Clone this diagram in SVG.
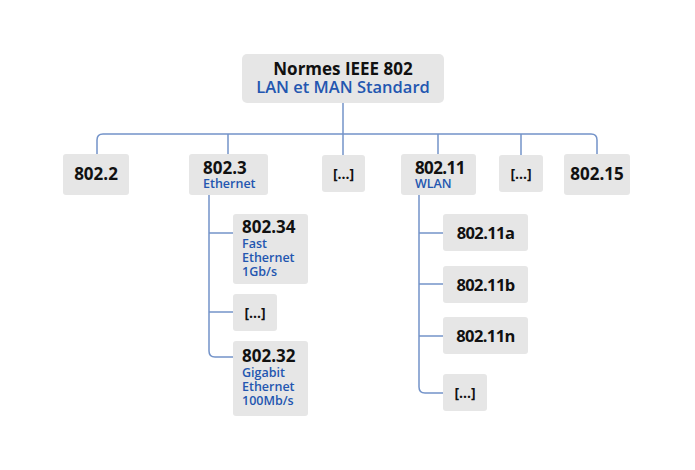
<svg xmlns="http://www.w3.org/2000/svg" width="695" height="470" viewBox="0 0 695 470">
<style>
.box{fill:#e6e6e6}
.t{font-family:"Open Sans","Liberation Sans",sans-serif;font-weight:700;fill:#111}
.b{font-family:"Open Sans","Liberation Sans",sans-serif;font-weight:600;fill:#2356b0}
.n{letter-spacing:-0.6px}
.c{fill:none;stroke:#7393c9;stroke-width:1.5}
</style>
<rect width="695" height="470" fill="#fff"/>
<g id="connectors" class="c">
<path d="M97,154 V140 Q97,134 103,134 H591 Q597,134 597,140 V154"/>
<path d="M343,103 V155"/>
<path d="M228,134 V154"/>
<path d="M438,134 V154"/>
<path d="M521,134 V155"/>
<path d="M209,195 V351 Q209,357 215,357 H233"/>
<path d="M209,233 H233"/>
<path d="M209,312 H233"/>
<path d="M419,195 V387 Q419,393 425,393 H443"/>
<path d="M419,233 H443"/>
<path d="M419,284 H443"/>
<path d="M419,336 H443"/>
</g>
<g id="root">
<rect class="box" x="242" y="54" width="202" height="49" rx="5"/>
<text class="t" x="343" y="75" font-size="17" text-anchor="middle">Normes IEEE 802</text>
<text class="b" x="343" y="93" font-size="16.5" font-weight="500" text-anchor="middle">LAN et MAN Standard</text>
</g>
<g id="n8022">
<rect class="box" x="63" y="154" width="66" height="41" rx="3"/>
<text class="t" x="96" y="180" font-size="17" text-anchor="middle">802.2</text>
</g>
<g id="n8023">
<rect class="box" x="189" y="154" width="79" height="41" rx="3"/>
<text class="t" x="203" y="174" font-size="17">802.3</text>
<text class="b" x="203" y="188" font-size="12.5">Ethernet</text>
</g>
<g id="etc1">
<rect class="box" x="322" y="155" width="43" height="37" rx="3"/>
<text class="t" x="343.5" y="179" font-size="14" text-anchor="middle">[...]</text>
</g>
<g id="n80211">
<rect class="box" x="401" y="154" width="75" height="41" rx="3"/>
<text class="t n" x="415" y="174" font-size="17">802.11</text>
<text class="b" x="415" y="188" font-size="12.5">WLAN</text>
</g>
<g id="etc2">
<rect class="box" x="499" y="155" width="44" height="37" rx="3"/>
<text class="t" x="521" y="179" font-size="14" text-anchor="middle">[...]</text>
</g>
<g id="n80215">
<rect class="box" x="564" y="154" width="66" height="41" rx="3"/>
<text class="t" x="597" y="180" font-size="17" text-anchor="middle">802.15</text>
</g>
<g id="n80234">
<rect class="box" x="233" y="214" width="75" height="70" rx="3"/>
<text class="t" x="242" y="233" font-size="17">802.34</text>
<text class="b" x="242" y="248" font-size="12.5">Fast</text>
<text class="b" x="242" y="262" font-size="12.5">Ethernet</text>
<text class="b" x="242" y="276" font-size="12.5">1Gb/s</text>
</g>
<g id="etc3">
<rect class="box" x="233" y="294" width="44" height="37" rx="3"/>
<text class="t" x="255" y="318" font-size="14" text-anchor="middle">[...]</text>
</g>
<g id="n80232">
<rect class="box" x="233" y="341" width="75" height="75" rx="3"/>
<text class="t" x="242" y="362" font-size="17">802.32</text>
<text class="b" x="242" y="377" font-size="12.5">Gigabit</text>
<text class="b" x="242" y="391" font-size="12.5">Ethernet</text>
<text class="b" x="242" y="405" font-size="12.5">100Mb/s</text>
</g>
<g id="n80211a">
<rect class="box" x="443" y="214" width="85" height="37" rx="3"/>
<text class="t n" x="485.5" y="239" font-size="16.5" text-anchor="middle">802.11a</text>
</g>
<g id="n80211b">
<rect class="box" x="443" y="266" width="85" height="37" rx="3"/>
<text class="t n" x="485.5" y="291" font-size="16.5" text-anchor="middle">802.11b</text>
</g>
<g id="n80211n">
<rect class="box" x="443" y="317" width="85" height="37" rx="3"/>
<text class="t n" x="485.5" y="342" font-size="16.5" text-anchor="middle">802.11n</text>
</g>
<g id="etc4">
<rect class="box" x="443" y="374" width="44" height="37" rx="3"/>
<text class="t" x="465" y="398" font-size="14" text-anchor="middle">[...]</text>
</g>
</svg>
